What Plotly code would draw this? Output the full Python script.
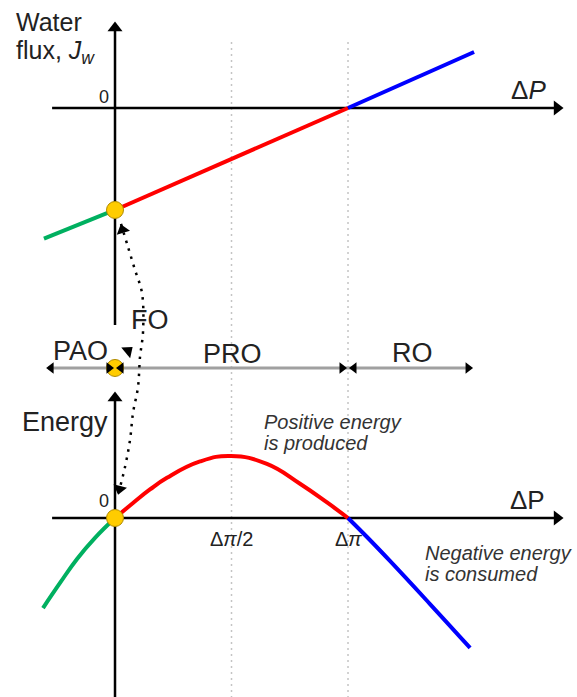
import plotly.graph_objects as go

W, H = 577, 697
FONT = "Liberation Sans, Arial, sans-serif"

# ---------------- data (ΔP normalised so that Δπ = 1) ----------------
# Water flux J_w vs ΔP (normalised units)
flux_dp_pao = [-0.305, 0.0]
flux_j_pao = [-1.28, -1.0]
flux_dp_pro = [0.0, 1.0]
flux_j_pro = [-1.0, 0.0]
flux_dp_ro = [1.0, 1.541]
flux_j_ro = [0.0, 0.549]

# Energy vs ΔP (normalised units)
energy_dp_pao = [-0.309, -0.236, -0.163, -0.0858, 0.0]
energy_w_pao = [-0.363, -0.262, -0.165, -0.080, 0.0]
energy_dp_pro = [0.0, 0.0773, 0.150, 0.223, 0.365, 0.498, 0.652, 0.794, 0.910, 1.0]
energy_w_pro = [0.0, 0.0605, 0.115, 0.162, 0.228, 0.250, 0.218, 0.138, 0.0625, 0.0]
energy_dp_ro = [1.0, 1.0815, 1.180, 1.352, 1.524]
energy_w_ro = [0.0, -0.0766, -0.173, -0.347, -0.524]

# Operating-mode band
band_edges = [-0.30, 0.0, 1.0, 1.541]
band_labels = ["PAO", "PRO", "RO"]
band_level = -2.549          # in flux units (drawn between the two panels)

# FO link (dotted curved double arrow) in (ΔP, flux) units
fo_dp = [0.0258, 0.0558, 0.0858, 0.1159, 0.1202, 0.1073, 0.0987, 0.0773, 0.0644, 0.0429, 0.0129]
fo_j = [-1.137, -1.363, -1.588, -1.814, -2.196, -2.441, -2.735, -2.990, -3.255, -3.520, -3.794]

guide_dp = [0.5, 1.0]
tick_labels = ["Δ<i>π</i>/2", "Δ<i>π</i>"]

GREEN, RED, BLUE = "#00b060", "#ff0000", "#0000ff"
YELLOW, YEDGE = "#ffcc00", "#b08a00"
GRAY = "#a0a0a0"

# axis ranges: flux axis (y) and energy axis (y2) overlay the full figure
X_RANGE = [-0.4936, 1.9828]
Y_RANGE = [-5.775, 1.0588]
Y2_RANGE = [-0.7218, 2.0887]
px_x = (X_RANGE[1] - X_RANGE[0]) / W        # data per pixel (x)
px_y = (Y_RANGE[1] - Y_RANGE[0]) / H        # data per pixel (flux y)
px_y2 = (Y2_RANGE[1] - Y2_RANGE[0]) / H     # data per pixel (energy y)

fig = go.Figure()


def seg(xs, ys, yaxis="y", **line):
    fig.add_trace(go.Scatter(x=xs, y=ys, yaxis=yaxis, mode="lines", line=line,
                             hoverinfo="skip", showlegend=False))


def heads(xs, ys, symbol, size, yaxis="y", angle=0):
    fig.add_trace(go.Scatter(x=xs, y=ys, yaxis=yaxis, mode="markers",
                             marker=dict(symbol=symbol, size=size, color="black", angle=angle,
                                         line=dict(width=0)),
                             hoverinfo="skip", showlegend=False))


# guide lines
for g in guide_dp:
    seg([g, g], [0.647, Y_RANGE[0]], color="#c4c4c4", width=1.5, dash="2px,4px")

# axes (upper: flux, lower: energy)
AX_X0, AX_X1 = -0.27, 1.923
seg([AX_X0, AX_X1 - 8 * px_x], [0, 0], color="black", width=2.5)
heads([AX_X1 - 6 * px_x], [0], "triangle-right", 13)
seg([0, 0], [-2.127, 0.843 - 8 * px_y], color="black", width=2.5)
heads([0], [0.843 - 6 * px_y], "triangle-up", 13)
seg([AX_X0, AX_X1 - 8 * px_x], [0, 0], yaxis="y2", color="black", width=2.5)
heads([AX_X1 - 6 * px_x], [0], "triangle-right", 13, yaxis="y2")
seg([0, 0], [Y2_RANGE[0] - 0.05, 0.508 - 8 * px_y2], yaxis="y2", color="black", width=2.5)
heads([0], [0.508 - 6 * px_y2], "triangle-up", 13, yaxis="y2")

# flux lines
for xs, ys, c in [(flux_dp_pao, flux_j_pao, GREEN), (flux_dp_pro, flux_j_pro, RED),
                  (flux_dp_ro, flux_j_ro, BLUE)]:
    seg(xs, ys, color=c, width=4)

# energy curves
for xs, ys, c in [(energy_dp_pao, energy_w_pao, GREEN), (energy_dp_pro, energy_w_pro, RED),
                  (energy_dp_ro, energy_w_ro, BLUE)]:
    seg(xs, ys, yaxis="y2", color=c, width=4, shape="spline", smoothing=1.3)

# band gray line
seg([band_edges[0] + 3 * px_x, band_edges[-1] - 3 * px_x], [band_level, band_level],
    color=GRAY, width=3)

# yellow circles
fig.add_trace(go.Scatter(x=[flux_dp_pro[0], band_edges[1]], y=[flux_j_pro[0], band_level],
                         mode="markers",
                         marker=dict(size=17, color=YELLOW, line=dict(color=YEDGE, width=1)),
                         showlegend=False, hoverinfo="skip"))
fig.add_trace(go.Scatter(x=[energy_dp_pro[0]], y=[energy_w_pro[0]], yaxis="y2", mode="markers",
                         marker=dict(size=17, color=YELLOW, line=dict(color=YEDGE, width=1)),
                         showlegend=False, hoverinfo="skip"))

# band arrowheads
left_tips = [band_edges[0], band_edges[1], band_edges[2]]
right_tips = [band_edges[1], band_edges[2], band_edges[3]]
heads([t + 6 * px_x for t in left_tips], [band_level] * 3, "triangle-left", 10)
heads([t - 6 * px_x for t in right_tips], [band_level] * 3, "triangle-right", 10)

# FO dotted curve
seg(fo_dp, fo_j, color="black", width=2.5, dash="2.5px,6px", shape="spline")
heads([fo_dp[0] + 1.5 * px_x], [fo_j[0] - 6 * px_y], "triangle-up", 12, angle=-17)
heads([fo_dp[-1] + 1.5 * px_x], [fo_j[-1] + 6 * px_y], "triangle-down", 12, angle=14)
# small FO arrowhead near the band
heads([band_edges[1] + 13 * px_x], [band_level + 17 * px_y], "triangle-up", 12, angle=50)

anns = []


def label(px, py, text, size, italic=False, color="#222", xanchor="center", align="center"):
    anns.append(dict(x=px / W, y=1 - py / H, xref="paper", yref="paper", text=text,
                     showarrow=False, xanchor=xanchor, yanchor="middle", align=align,
                     font=dict(family=FONT, size=size, color=color,
                               style="italic" if italic else "normal")))


label(14, 22, "Water", 25, xanchor="left", align="left")
label(14, 52, "flux, <i>J</i><sub><i>w</i></sub>", 25, xanchor="left", align="left")
label(104, 97, "0", 18)
label(528, 90, "Δ<i>P</i>", 26)
label(104, 501, "0", 18)
label(527, 500, "ΔP", 26)
label(65, 422, "Energy", 27)
label(262, 422, "Positive energy", 20, italic=True, color="#333", xanchor="left", align="left")
label(262, 443, "is produced", 20, italic=True, color="#333", xanchor="left", align="left")
label(423, 553, "Negative energy", 20, italic=True, color="#333", xanchor="left", align="left")
label(423, 574, "is consumed", 20, italic=True, color="#333", xanchor="left", align="left")
label(150, 320, "FO", 27)
label(80, 351, band_labels[0], 27)
label(232, 354, band_labels[1], 27)
label(412, 353, band_labels[2], 27)

for g, t in zip(guide_dp, tick_labels):
    anns.append(dict(x=g, y=0, xref="x", yref="y2", text=t, showarrow=False,
                     yanchor="top", yshift=-8, font=dict(family=FONT, size=20, color="#222")))

fig.update_layout(
    width=W, height=H, autosize=False,
    margin=dict(l=0, r=0, t=0, b=0),
    paper_bgcolor="white", plot_bgcolor="white",
    xaxis=dict(range=X_RANGE, visible=False, fixedrange=True),
    yaxis=dict(range=Y_RANGE, visible=False, fixedrange=True),
    yaxis2=dict(range=Y2_RANGE, visible=False, overlaying="y", fixedrange=True),
    annotations=anns,
    showlegend=False,
)

fig.write_html("out.html", config={"displayModeBar": False})
